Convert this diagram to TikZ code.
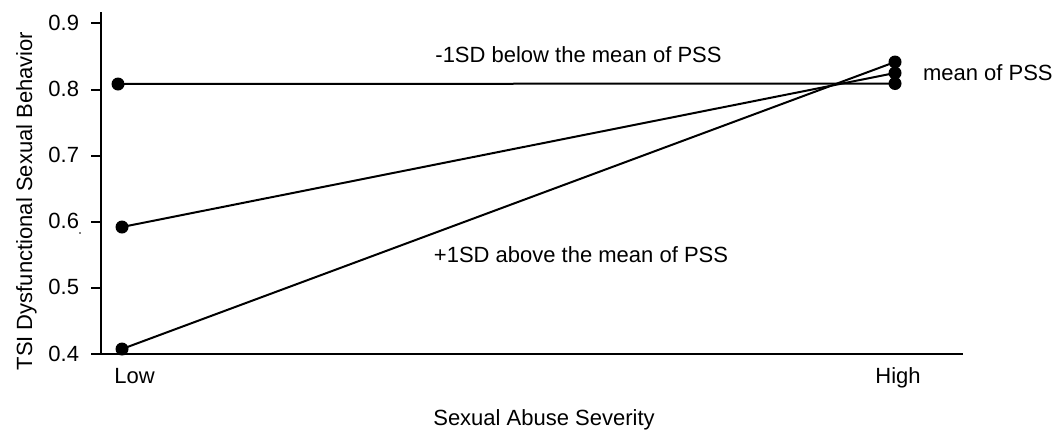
\documentclass[tikz,border=0pt]{standalone}
\usepackage{fontspec}
\setmainfont{Liberation Sans}
\begin{document}
\begin{tikzpicture}[x=1pt,y=-1pt,
  every node/.style={font=\fontsize{22}{26}\selectfont, inner sep=0pt, outer sep=0pt},
  axis/.style={line width=2pt, line cap=rect},
  dataline/.style={line width=2pt},
  dot/.style={circle, fill=black, minimum size=13pt, inner sep=0pt},
  ticklab/.style={anchor=base east},
  lab/.style={anchor=base}]
\useasboundingbox (0,0) rectangle (1056,429);
% axes
\coordinate (ytop) at (101,13);
\coordinate (origin) at (101,354);
\coordinate (xend) at (962,354);
\draw[axis] (ytop) -- (origin) -- (xend);
% ticks and labels
\foreach \v/\yy/\k in {0.9/23/a, 0.8/89.5/b, 0.7/155.5/c, 0.6/221.5/d, 0.5/287.5/e, 0.4/354/f}{
  \coordinate (tick\k) at (101,\yy);
  \draw[line width=2pt] (tick\k) -- ++(-10,0);
  \node[ticklab] (ticklab\k) at (79,\yy+7) {\v};
}
\fill (80,233) circle (0.8);
% data points
\node[dot] (L1) at (118,84) {};
\node[dot] (L2) at (122,227) {};
\node[dot] (L3) at (122,349) {};
\node[dot] (H1) at (895,62) {};
\node[dot] (H2) at (895,73) {};
\node[dot] (H3) at (895,83.5) {};
\draw[dataline] (L1.center) -- (H3.center);
\draw[dataline] (L2.center) -- (H2.center);
\draw[dataline] (L3.center) -- (H1.center);
% labels
\node[lab] (lminus) at (578.5,62) {-1SD below the mean of PSS};
\node[lab] (lplus) at (581,262) {+1SD above the mean of PSS};
\node[anchor=base west] (lmean) at (923,80.5) {mean of PSS};
\node[lab] (low) at (134.5,383) {Low};
\node[lab] (high) at (898,383) {High};
\node[lab] (xlab) at (544,425) {Sexual Abuse Severity};
\node[lab, rotate=90] (ylab) at (32,201) {TSI Dysfunctional Sexual Behavior};
\end{tikzpicture}
\end{document}
